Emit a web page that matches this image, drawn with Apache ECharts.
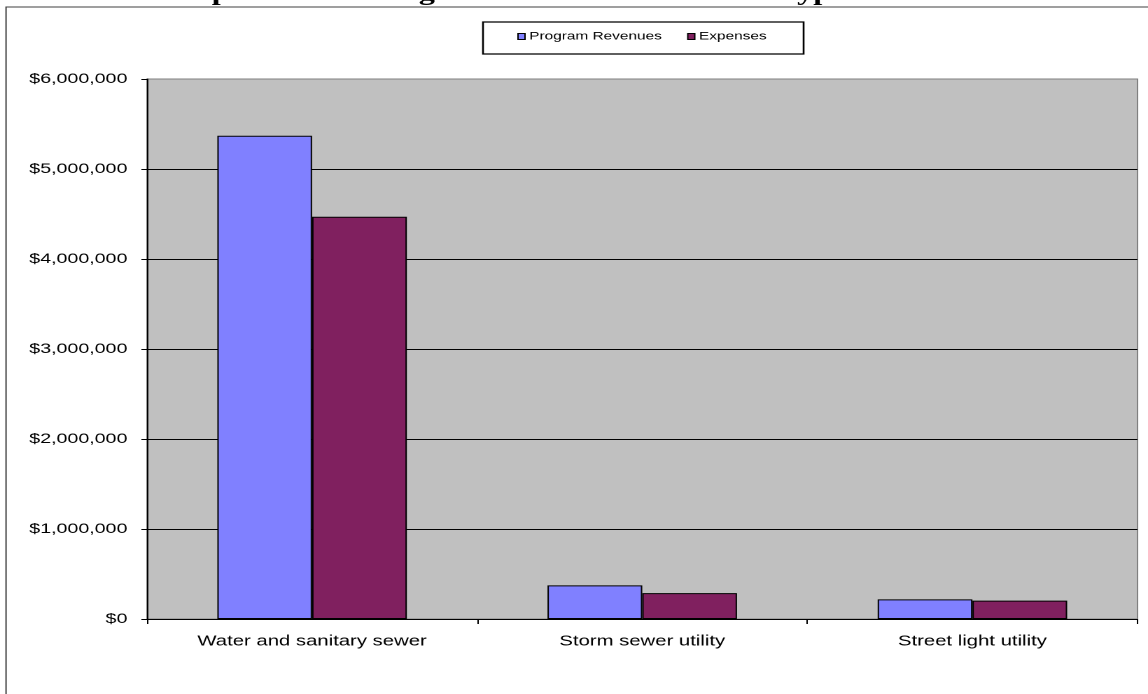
<!DOCTYPE html>
<html>
<head>
<meta charset="utf-8">
<title>Expenses and Program Revenues - Business-type Activities</title>
<script src="https://cdn.jsdelivr.net/npm/echarts@6/dist/echarts.min.js"></script>
<style>
  html, body { margin: 0; padding: 0; background: #ffffff; overflow: hidden; }
  /* the chart is laid out at 820px and widened to fill the 1148px page */
  #chart { width: 820px; height: 694px; transform: scaleX(1.4); transform-origin: 0 0; }
</style>
</head>
<body>
<div id="chart"></div>
<script>
// Business-type activities
const categories = ['Water and sanitary sewer', 'Storm sewer utility', 'Street light utility'];
const seriesNames = ['Program Revenues', 'Expenses'];
const programRevenues = [5370000, 374000, 218000];
const expenses = [4470000, 288000, 204000];
const yMin = 0;
const yMax = 6000000;
const yStep = 1000000;

const chartTitle = 'Expenses and Program Revenues - Business-type Activities';

const money = v => '$' + Number(v).toLocaleString('en-US');

const chart = echarts.init(document.getElementById('chart'), null, { renderer: 'canvas', devicePixelRatio: 2 });

const sansFont = '"Liberation Sans", Arial, sans-serif';

chart.setOption({
  animation: false,
  backgroundColor: '#ffffff',
  graphic: [
    {
      // outer chart frame
      type: 'rect',
      silent: true,
      z: -10,
      shape: { x: 4.3, y: 7, width: 900, height: 800 },
      style: { fill: 'none', stroke: '#404040', lineWidth: 1 }
    },
    {
      // title, running off the top edge
      type: 'text',
      silent: true,
      x: 413,
      y: -6,
      style: {
        text: chartTitle,
        font: 'bold 23px "Liberation Serif", "Times New Roman", serif',
        fill: '#000000',
        align: 'center',
        verticalAlign: 'middle'
      }
    },
    {
      // legend frame
      type: 'rect',
      silent: true,
      z: -5,
      shape: { x: 345, y: 22, width: 229, height: 32 },
      style: { fill: '#ffffff', stroke: '#000000', lineWidth: 1.3 }
    }
  ],
  legend: {
    data: seriesNames,
    left: 369.5,
    top: 31,
    padding: 0,
    itemGap: 18,
    itemWidth: 5,
    itemHeight: 6,
    icon: 'rect',
    textStyle: { fontFamily: sansFont, fontSize: 11, color: '#000000', padding: [0, 0, 0, -2] },
    itemStyle: { borderColor: '#000000', borderWidth: 1 }
  },
  grid: {
    left: 105,
    right: 7.5,
    top: 79,
    bottom: 75,
    show: true,
    backgroundColor: '#C0C0C0',
    borderColor: '#808080',
    borderWidth: 1
  },
  xAxis: {
    type: 'category',
    data: categories,
    boundaryGap: true,
    axisLine: { show: true, lineStyle: { color: '#000000', width: 1 } },
    axisTick: { show: true, alignWithLabel: false, length: 5, lineStyle: { color: '#000000' } },
    axisLabel: { fontFamily: sansFont, fontSize: 14.5, color: '#000000', margin: 15, interval: 0 },
    splitLine: { show: false }
  },
  yAxis: {
    type: 'value',
    min: yMin,
    max: yMax,
    interval: yStep,
    axisLine: { show: true, lineStyle: { color: '#000000', width: 1 } },
    axisTick: { show: true, inside: false, length: 4, lineStyle: { color: '#000000' } },
    axisLabel: { fontFamily: sansFont, fontSize: 14, color: '#000000', margin: 14, formatter: money },
    splitLine: { show: true, showMaxLine: false, lineStyle: { color: '#000000', width: 1 } }
  },
  series: [
    {
      name: seriesNames[0],
      type: 'bar',
      data: programRevenues,
      barGap: '0%',
      barCategoryGap: '42.6%',
      itemStyle: { color: '#8080FF', borderColor: '#000000', borderWidth: 1 }
    },
    {
      name: seriesNames[1],
      type: 'bar',
      data: expenses,
      barGap: '0%',
      barCategoryGap: '42.6%',
      itemStyle: { color: '#80205F', borderColor: '#000000', borderWidth: 1 }
    }
  ]
});
</script>
</body>
</html>
